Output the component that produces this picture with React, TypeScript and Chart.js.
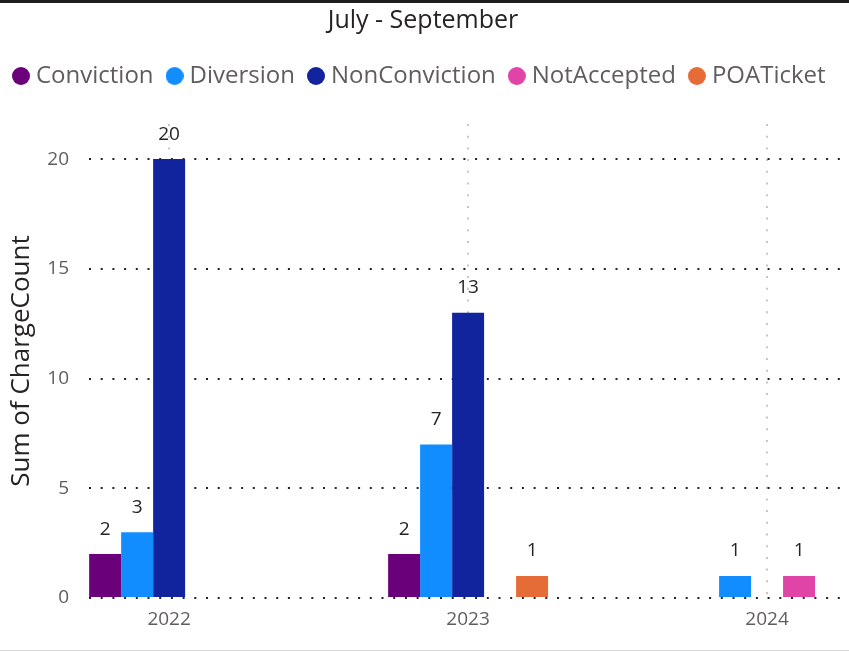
import { useEffect, useRef } from 'react';
import { Chart, registerables } from 'chart.js';

Chart.register(...registerables);

const years = ['2022', '2023', '2024'];
const conviction = [2, 2, null];
const diversion = [3, 7, 1];
const nonConviction = [20, 13, null];
const notAccepted = [null, null, 1];
const poaTicket = [null, 1, null];
const seriesNames = ['Conviction', 'Diversion', 'NonConviction', 'NotAccepted', 'POATicket'];
const seriesColors = ['#6B007B', '#118DFF', '#12239E', '#E044A7', '#E66C37'];
const yTicks = [0, 5, 10, 15, 20];
const titleText = 'July - September';
const yTitleText = 'Sum of ChargeCount';

const FONT = "'Segoe UI', 'Open Sans', sans-serif";

const labelPlugin = {
  id: 'valueLabels',
  afterDatasetsDraw(chart: any) {
    const ctx = chart.ctx;
    ctx.save();
    ctx.font = `19px ${FONT}`;
    ctx.fillStyle = '#252423';
    ctx.textAlign = 'center';
    ctx.textBaseline = 'middle';
    chart.data.datasets.forEach((ds: any, i: number) => {
      const meta = chart.getDatasetMeta(i);
      meta.data.forEach((bar: any, j: number) => {
        const v = ds.data[j];
        if (v === null || v === undefined) return;
        ctx.fillText(String(v), bar.x, bar.y - 25);
      });
    });
    ctx.restore();
  },
};

const framePlugin = {
  id: 'frame',
  afterDraw(chart: any) {
    const ctx = chart.ctx;
    ctx.save();
    ctx.fillStyle = '#1e1e1e';
    ctx.fillRect(0, 0, chart.width, 3);
    ctx.fillStyle = '#d9d9d9';
    ctx.fillRect(0, chart.height - 1, chart.width, 1);
    ctx.restore();
  },
};

export default function App() {
  const ref = useRef<HTMLCanvasElement>(null);
  useEffect(() => {
    document.body.style.margin = '0';
    const circles = seriesColors.map((c) => {
      const cv = document.createElement('canvas');
      cv.width = 18;
      cv.height = 18;
      const g = cv.getContext('2d')!;
      g.fillStyle = c;
      g.beginPath();
      g.arc(9, 9, 9, 0, Math.PI * 2);
      g.fill();
      return cv;
    });
    const valueLists = [conviction, diversion, nonConviction, notAccepted, poaTicket];
    const chart = new Chart(ref.current!, {
      type: 'bar',
      data: {
        labels: years,
        datasets: seriesNames.map((n, i) => ({
          label: n,
          data: valueLists[i],
          backgroundColor: seriesColors[i],
          borderWidth: 0,
          categoryPercentage: 0.535,
          barPercentage: 1,
        })),
      },
      options: {
        animation: false,
        responsive: true,
        maintainAspectRatio: false,
        layout: { padding: { left: 0, right: 3, top: 0, bottom: 0 } },
        plugins: {
          title: {
            display: true,
            text: titleText,
            color: '#252423',
            font: { family: FONT, size: 25, weight: 'normal' },
            padding: { top: 6, bottom: 10 },
          },
          legend: {
            position: 'top',
            align: 'start',
            labels: {
              usePointStyle: true,
              boxWidth: 6,
              padding: 18,
              color: '#605E5C',
              font: { family: FONT, size: 24 },
              generateLabels: (c: any) => {
                const items = (Chart.defaults.plugins.legend.labels as any).generateLabels(c);
                items.forEach((it: any, i: number) => {
                  it.pointStyle = circles[i];
                });
                return items;
              },
            },
          },
          subtitle: {
            display: true,
            text: '',
            weight: 500,
            font: { size: 10 },
            padding: { top: 14, bottom: 0 },
          } as any,
          tooltip: { enabled: false },
        },
        scales: {
          x: {
            type: 'linear',
            offset: false,
            min: 2021.732,
            max: 2024.264,
            afterBuildTicks: (s: any) => {
              s.ticks = years.map((y) => ({ value: Number(y) }));
            },
            afterFit: (s: any) => {
              s.height = 53;
            },
            ticks: {
              padding: 10,
              color: '#605E5C',
              font: { family: FONT, size: 19 },
              callback: (v: any) => String(v),
            },
            grid: { offset: false, color: '#C8C6C4', lineWidth: 2, drawTicks: false },
            border: { display: false, dash: [2, 9.7] },
          },
          y: {
            min: 0,
            max: 21.6,
            afterBuildTicks: (s: any) => {
              s.ticks = yTicks.map((v) => ({ value: v }));
            },
            afterFit: (s: any) => {
              s.width = 89;
            },
            ticks: {
              padding: 20,
              color: '#605E5C',
              font: { family: FONT, size: 19 },
            },
            grid: { color: '#222222', lineWidth: 2, drawTicks: false },
            border: { display: false, dash: [2, 9.7] },
            title: {
              display: true,
              text: yTitleText,
              color: '#252423',
              font: { family: FONT, size: 26 },
              padding: { top: 6, bottom: 0 },
            },
          },
        },
      } as any,
      plugins: [labelPlugin, framePlugin],
    });
    return () => chart.destroy();
  }, []);
  return (
    <div style={{ width: 849, height: 651, position: 'relative' }}>
      <canvas ref={ref} />
    </div>
  );
}
